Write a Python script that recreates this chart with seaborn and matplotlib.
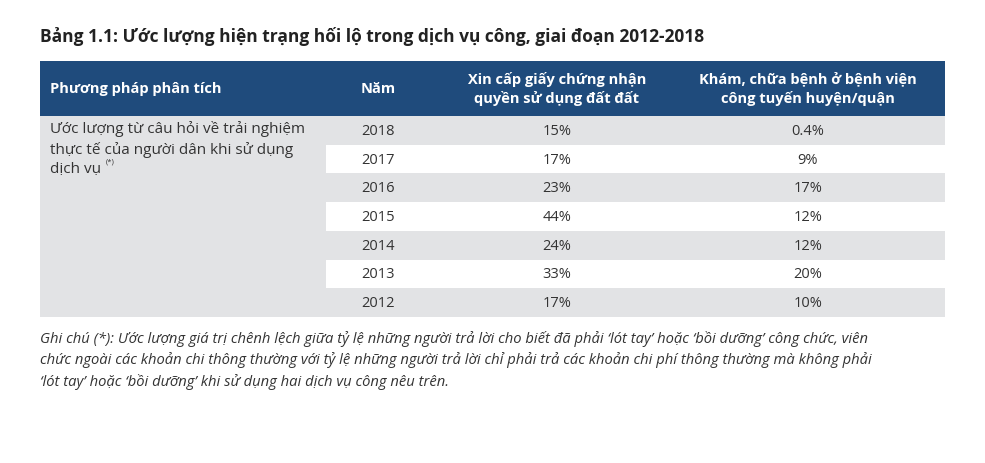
import numpy as np
import matplotlib.pyplot as plt
import seaborn as sns

# Table data
years = ["2018", "2017", "2016", "2015", "2014", "2013", "2012"]
land_values = ["15%", "17%", "23%", "44%", "24%", "33%", "17%"]
health_values = ["0.4%", "9%", "17%", "12%", "12%", "20%", "10%"]
headers = ["Phương pháp phân tích", "Năm",
           "Xin cấp giấy chứng nhận\nquyền sử dụng đất đất",
           "Khám, chữa bệnh ở bệnh viện\ncông tuyến huyện/quận"]
method_text = "Ước lượng từ câu hỏi về trải nghiệm\nthực tế của người dân khi sử dụng\ndịch vụ"
title = "Bảng 1.1: Ước lượng hiện trạng hối lộ trong dịch vụ công, giai đoạn 2012-2018"
note = ("Ghi chú (*): Ước lượng giá trị chênh lệch giữa tỷ lệ những người trả lời cho biết đã phải ‘lót tay’ hoặc ‘bồi dưỡng’ công chức, viên\n"
        "chức ngoài các khoản chi thông thường với tỷ lệ những người trả lời chỉ phải trả các khoản chi phí thông thường mà không phải\n"
        "‘lót tay’ hoặc ‘bồi dưỡng’ khi sử dụng hai dịch vụ công nêu trên.")

W, H = 985, 464
FONT = "Open Sans"
BLUE = "#1f4b7c"
GREY = "#e2e3e5"

fig = plt.figure(figsize=(W / 100, H / 100), dpi=100)
left, right = 40, 945
col1_end = 326
head_top, head_bot = 62, 117
body_bot = 318
row_h = (body_bot - head_bot) / len(years)

# striped rows drawn as a seaborn heatmap in its own axes
stripes = np.array([[1 - i % 2] for i in range(len(years))])
hax = fig.add_axes([col1_end / W, 1 - body_bot / H, (right - col1_end) / W, (body_bot - head_bot) / H])
sns.heatmap(stripes, ax=hax, cmap=sns.color_palette(["white", GREY]), cbar=False,
            xticklabels=False, yticklabels=False, vmin=0, vmax=1)
hax.axis("off")

ax = fig.add_axes([0, 0, 1, 1])
ax.set_xlim(0, W)
ax.set_ylim(H, 0)
ax.axis("off")
ax.set_zorder(5)

# header band and first column
ax.add_patch(plt.Rectangle((left, head_top), right - left, head_bot - head_top, color=BLUE, lw=0))
ax.add_patch(plt.Rectangle((left, head_bot), col1_end - left, body_bot - head_bot, color=GREY, lw=0))

ax.text(left, 37, title, fontsize=12.5, fontweight="bold", family=FONT, va="center", color="#222")

hx = [50, 378, 557, 808]
ax.text(hx[0], 89, headers[0], color="white", fontweight="bold", fontsize=10.5, family=FONT, va="center")
for x, h in zip(hx[1:], headers[1:]):
    ax.text(x, 89, h, color="white", fontweight="bold", fontsize=10.5, family=FONT,
            va="center", ha="center", linespacing=1.35)

ax.text(50, 121, method_text, fontsize=11, family=FONT, va="top", color="#333", linespacing=1.4)
ax.text(106, 162, "(*)", fontsize=5.5, family=FONT, va="center", color="#333")

for i, (y, a, b) in enumerate(zip(years, land_values, health_values)):
    yc = head_bot + (i + 0.5) * row_h
    ax.text(hx[1], yc, y, fontsize=10.5, family=FONT, ha="center", va="center", color="#333")
    ax.text(hx[2], yc, a, fontsize=10.5, family=FONT, ha="center", va="center", color="#333")
    ax.text(hx[3], yc, b, fontsize=10.5, family=FONT, ha="center", va="center", color="#333")

ax.text(left, 331, note, fontsize=10.6, family=FONT, style="italic", va="top", color="#333", linespacing=1.45)

fig.savefig("out.png", dpi=100)
